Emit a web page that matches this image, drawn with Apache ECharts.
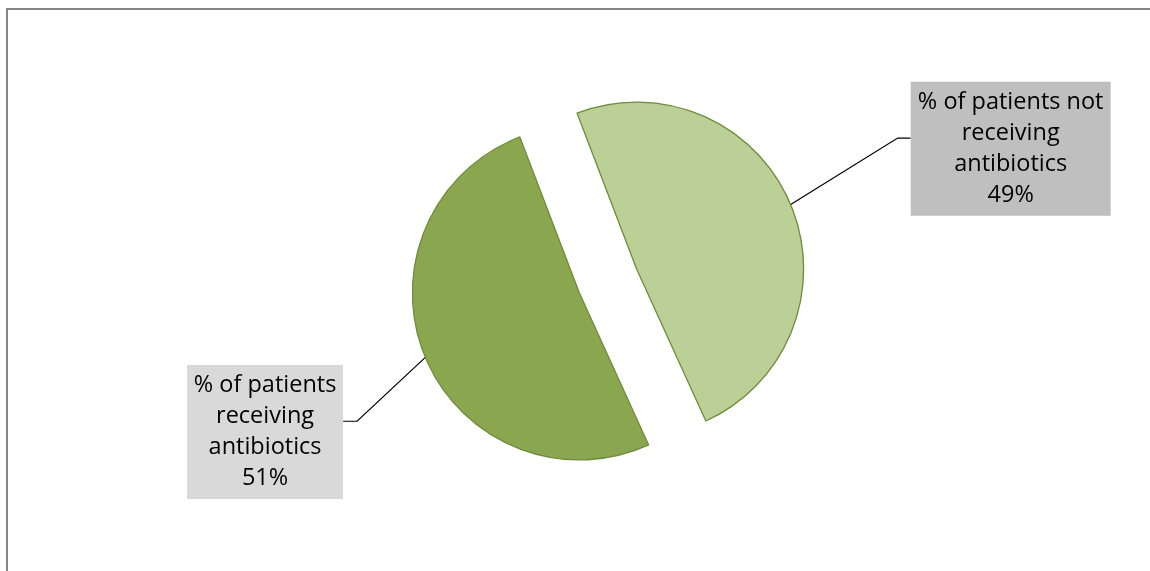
<!DOCTYPE html>
<html>
<head>
<meta charset="utf-8">
<title>Antibiotic use among patients</title>
<script src="https://cdn.jsdelivr.net/npm/echarts@6/dist/echarts.min.js"></script>
<style>
  html, body { margin: 0; padding: 0; background: #ffffff; }
  #chart { width: 1150px; height: 571px; }
</style>
</head>
<body>
<div id="chart"></div>
<script>
// Share of patients, in percent
const categories = [
  '% of patients receiving antibiotics',
  '% of patients not receiving antibiotics'
];
const shares = [51, 49];

// Slice fills and label box shades, per category
const sliceColors = ['#8aa64e', '#bad096'];
const labelBoxColors = ['#d9d9d9', '#bfbfbf'];
// Label box text widths, leader line lengths and vertical box shifts, per category
const labelWidths = [148, 192];
const lineLengths = [[74, 14], [116, 13]];
const labelShiftsY = [46, -11];
// Where the leader line meets the box, as a fraction of box height
const LINE_ATTACH = 0.42;

const LABEL_FONT_SIZE = 23.5;
const LABEL_FONT = LABEL_FONT_SIZE + "px 'Open Sans'";

// Word-wrap a category name to the width of its label box
const measureCtx = document.createElement('canvas').getContext('2d');
measureCtx.font = LABEL_FONT;
function wrapWords(text, maxWidth) {
  const words = text.split(' ');
  const lines = [];
  let line = '';
  words.forEach(w => {
    const trial = line ? line + ' ' + w : w;
    if (line && measureCtx.measureText(trial).width > maxWidth) {
      lines.push(line);
      line = w;
    } else {
      line = trial;
    }
  });
  if (line) lines.push(line);
  return lines;
}

const chart = echarts.init(document.getElementById('chart'));

const pieData = categories.map((name, i) => ({
  name: name,
  value: shares[i],
  selected: true,
  itemStyle: { color: sliceColors[i] },
  select: { itemStyle: { color: sliceColors[i], borderColor: '#6f8b3b', borderWidth: 1.3 } },
  label: {
    width: labelWidths[i],
    backgroundColor: labelBoxColors[i]
  },
  labelLine: {
    length: lineLengths[i][0],
    length2: lineLengths[i][1]
  }
}));

chart.setOption({
  animation: false,
  graphic: [{
    type: 'rect',
    shape: { x: 7, y: 9, width: 1170, height: 600 },
    style: { fill: 'none', stroke: '#878787', lineWidth: 2 },
    silent: true
  }],
  series: [{
    type: 'pie',
    center: [608, 281],
    radius: 167,
    startAngle: 294.5,
    clockwise: true,
    selectedMode: 'multiple',
    selectedOffset: 31,
    avoidLabelOverlap: false,
    itemStyle: { borderColor: '#6f8b3b', borderWidth: 1.3 },
    emphasis: { disabled: true },
    label: {
      show: true,
      position: 'outside',
      formatter: function (p) {
        const lines = wrapWords(p.name, labelWidths[p.dataIndex]);
        lines.push(p.value + '%');
        return lines.map(l => '{t|' + l + '}').join('\n');
      },
      color: '#000000',
      fontFamily: 'Open Sans',
      fontSize: LABEL_FONT_SIZE,
      lineHeight: 31,
      padding: [5, 4, 5, 4],
      distanceToLabelLine: 0,
      rich: {
        t: {
          align: 'center',
          color: '#000000',
          fontFamily: 'Open Sans',
          fontSize: LABEL_FONT_SIZE,
          lineHeight: 31
        }
      }
    },
    // Shift each box vertically; the leader line leaves the slice edge where the
    // pie puts it, then runs level into the box's near side
    labelLayout: function (params) {
      const i = params.dataIndex;
      const r = params.labelRect;
      const pts = params.labelLinePoints;
      const dy = labelShiftsY[i];
      const onLeft = pts[2][0] < pts[0][0];
      const ey = r.y + dy + r.height * LINE_ATTACH;
      const ex = onLeft ? r.x + r.width : r.x;
      const kx = ex + (onLeft ? 1 : -1) * lineLengths[i][1];
      return {
        dy: dy,
        labelLinePoints: [pts[0], [kx, ey], [ex, ey]]
      };
    },
    labelLine: {
      show: true,
      smooth: false,
      lineStyle: { color: '#000000', width: 1.2 }
    },
    data: pieData
  }]
});
</script>
</body>
</html>
